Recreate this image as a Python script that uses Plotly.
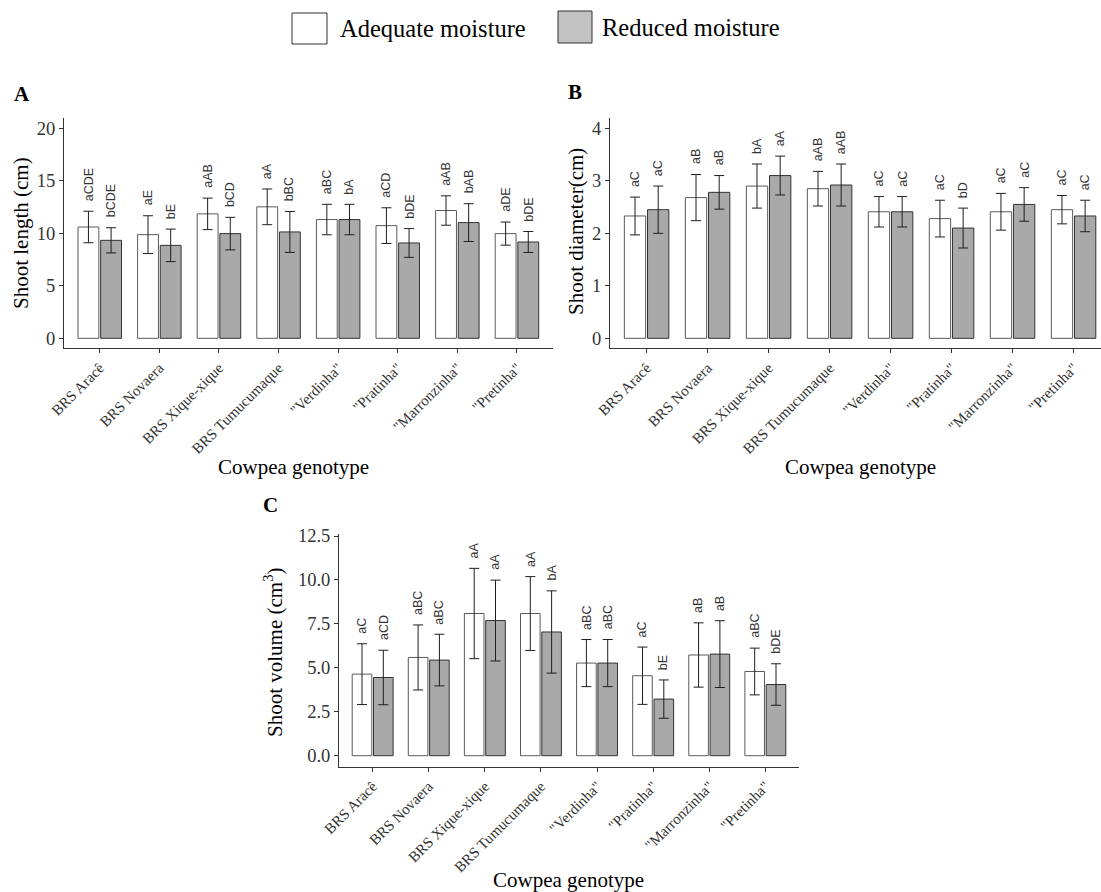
import plotly.graph_objects as go

# ---- data -------------------------------------------------------------
genotypes = ['BRS Aracê', 'BRS Novaera', 'BRS Xique-xique', 'BRS Tumucumaque',
             '"Verdinha"', '"Pratinha"', '"Marronzinha"', '"Pretinha"']
treatments = ['Adequate moisture', 'Reduced moisture']

# Shoot length (cm)
length_adequate = [10.6, 9.87, 11.85, 12.52, 11.31, 10.73, 12.17, 9.97]
length_adequate_sd = [1.5, 1.8, 1.5, 1.7, 1.45, 1.7, 1.4, 1.1]
length_reduced = [9.33, 8.85, 9.97, 10.13, 11.31, 9.08, 11.02, 9.17]
length_reduced_sd = [1.2, 1.55, 1.55, 1.95, 1.45, 1.37, 1.8, 1.0]
length_letters_adequate = ['aCDE', 'aE', 'aAB', 'aA', 'aBC', 'aCD', 'aAB', 'aDE']
length_letters_reduced = ['bCDE', 'bE', 'bCD', 'bBC', 'bA', 'bDE', 'bAB', 'bDE']

# Shoot diameter (cm)
diameter_adequate = [2.33, 2.68, 2.90, 2.85, 2.41, 2.28, 2.41, 2.45]
diameter_adequate_sd = [0.36, 0.44, 0.42, 0.33, 0.29, 0.35, 0.35, 0.27]
diameter_reduced = [2.45, 2.78, 3.10, 2.92, 2.41, 2.10, 2.55, 2.33]
diameter_reduced_sd = [0.45, 0.32, 0.37, 0.40, 0.29, 0.38, 0.32, 0.30]
diameter_letters_adequate = ['aC', 'aB', 'bA', 'aAB', 'aC', 'aC', 'aC', 'aC']
diameter_letters_reduced = ['aC', 'aB', 'aA', 'aAB', 'aC', 'bD', 'aC', 'aC']

# Shoot volume (cm3)
volume_adequate = [4.64, 5.59, 8.09, 8.09, 5.27, 4.55, 5.73, 4.79]
volume_adequate_sd = [1.73, 1.85, 2.57, 2.10, 1.34, 1.63, 1.83, 1.33]
volume_reduced = [4.45, 5.44, 7.69, 7.04, 5.27, 3.22, 5.78, 4.05]
volume_reduced_sd = [1.55, 1.47, 2.30, 2.34, 1.34, 1.09, 1.90, 1.18]
volume_letters_adequate = ['aC', 'aBC', 'aA', 'aA', 'aBC', 'aC', 'aB', 'aBC']
volume_letters_reduced = ['aCD', 'aBC', 'aA', 'bA', 'aBC', 'bE', 'aB', 'bDE']

# ---- layout helpers ---------------------------------------------------
W, H = 1101, 892
SERIF = 'Liberation Serif, serif'
SANS = 'Liberation Sans, sans-serif'


def fx(px):
    return px / W


def fy(py):
    return 1 - py / H


FILL = ['#ffffff', '#a9a9a9']
EDGE = ['#5a5a5a', '#333333']

panels = [
    dict(ax='', letter='A', ytitle='Shoot length (cm)',
         means=[length_adequate, length_reduced],
         sds=[length_adequate_sd, length_reduced_sd],
         letters=[length_letters_adequate, length_letters_reduced],
         xdom=(64, 552.7), ydom=(118, 348.3), xrange=(-0.6, 7.6),
         yrange=(-0.952, 20.98), tickvals=[0, 5, 10, 15, 20], fmt='d',
         letter_pos=(21.5, 93.5), ytitle_pos=(21, 233), xtitle_pos=(293, 467)),
    dict(ax='2', letter='B', ytitle='Shoot diameter(cm)',
         means=[diameter_adequate, diameter_reduced],
         sds=[diameter_adequate_sd, diameter_reduced_sd],
         letters=[diameter_letters_adequate, diameter_letters_reduced],
         xdom=(610, 1101), ydom=(118, 348.3), xrange=(-0.6, 7.45),
         yrange=(-0.19, 4.196), tickvals=[0, 1, 2, 3, 4], fmt='d',
         letter_pos=(574.5, 92), ytitle_pos=(576, 232), xtitle_pos=(860, 467)),
    dict(ax='3', letter='C', ytitle='Shoot volume (cm<sup>3</sup>)',
         means=[volume_adequate, volume_reduced],
         sds=[volume_adequate_sd, volume_reduced_sd],
         letters=[volume_letters_adequate, volume_letters_reduced],
         xdom=(339, 799), ydom=(534, 766.7), xrange=(-0.6, 7.6),
         yrange=(-0.626, 12.614), tickvals=[0, 2.5, 5, 7.5, 10, 12.5], fmt='.1f',
         letter_pos=(270, 505), ytitle_pos=(273, 652), xtitle_pos=(568, 880)),
]

fig = go.Figure()
annotations = []
layout_axes = {}

for p in panels:
    xa, ya = 'x' + p['ax'], 'y' + p['ax']
    for t, name in enumerate(treatments):
        fig.add_trace(go.Bar(
            x=genotypes, y=p['means'][t], name=name, xaxis=xa, yaxis=ya,
            marker=dict(color=FILL[t], line=dict(color=EDGE[t], width=1)),
            error_y=dict(type='data', array=p['sds'][t], visible=True,
                         color='#1e1e1e', thickness=1, width=5),
            showlegend=False,
        ))
        # significance letters sit just above each error bar
        offset = -0.19 if t == 0 else 0.19
        for i, lab in enumerate(p['letters'][t]):
            annotations.append(dict(
                x=i + offset, y=p['means'][t][i] + p['sds'][t][i],
                xref=xa, yref=ya, text=lab, textangle=-90, showarrow=False,
                xanchor='center', yanchor='bottom', yshift=8,
                font=dict(family=SANS, size=12.5, color='#333333')))

    layout_axes['xaxis' + p['ax']] = dict(
        domain=[fx(p['xdom'][0]), min(1.0, fx(p['xdom'][1]))],
        anchor=ya, type='category', categoryorder='array', categoryarray=genotypes,
        range=list(p['xrange']), showline=True, linecolor='#333333', linewidth=1,
        ticks='outside', ticklen=4, tickcolor='#333333', tickangle=-45,
        tickfont=dict(family=SERIF, size=15, color='#333333'),
        showgrid=False, zeroline=False, fixedrange=True, automargin=False)
    layout_axes['yaxis' + p['ax']] = dict(
        domain=[fy(p['ydom'][1]), fy(p['ydom'][0])], anchor=xa,
        range=list(p['yrange']), tickvals=p['tickvals'], tickformat=p['fmt'],
        showline=True, linecolor='#333333', linewidth=1,
        ticks='outside', ticklen=4, tickcolor='#333333',
        tickfont=dict(family=SERIF, size=18.5, color='#333333'),
        showgrid=False, zeroline=False, fixedrange=True, automargin=False)

    # panel letter and axis titles
    annotations.append(dict(
        x=fx(p['letter_pos'][0]), y=fy(p['letter_pos'][1]), xref='paper', yref='paper',
        text='<b>%s</b>' % p['letter'], showarrow=False, xanchor='center', yanchor='middle',
        font=dict(family=SERIF, size=21, color='#000000')))
    annotations.append(dict(
        x=fx(p['ytitle_pos'][0]), y=fy(p['ytitle_pos'][1]), xref='paper', yref='paper',
        text=p['ytitle'], textangle=-90, showarrow=False, xanchor='center', yanchor='middle',
        font=dict(family=SERIF, size=21, color='#000000')))
    annotations.append(dict(
        x=fx(p['xtitle_pos'][0]), y=fy(p['xtitle_pos'][1]), xref='paper', yref='paper',
        text='Cowpea genotype', showarrow=False, xanchor='center', yanchor='middle',
        font=dict(family=SERIF, size=21, color='#000000')))

# ---- legend drawn at the top -----------------------------------------
legend_boxes = [(292, 13, 327, 44), (558, 11, 592, 43)]
legend_fill = ['#ffffff', '#c2c2c2']
legend_text_x = [338, 600]
shapes = []
for k, name in enumerate(treatments):
    x0, y0, x1, y1 = legend_boxes[k]
    shapes.append(dict(type='rect', xref='paper', yref='paper',
                       x0=fx(x0), x1=fx(x1), y0=fy(y1), y1=fy(y0),
                       fillcolor=legend_fill[k], line=dict(color='#333333', width=1)))
    annotations.append(dict(
        x=fx(legend_text_x[k]), y=fy((y0 + y1) / 2), xref='paper', yref='paper',
        text=name, showarrow=False, xanchor='left', yanchor='middle',
        font=dict(family=SERIF, size=24.5, color='#000000')))

fig.update_layout(
    width=W, height=H, margin=dict(l=0, r=0, t=0, b=0, autoexpand=False),
    paper_bgcolor='white', plot_bgcolor='white',
    barmode='group', bargap=0.24, bargroupgap=0.08,
    showlegend=False, annotations=annotations, shapes=shapes,
    **layout_axes)

fig.write_html('out.html')
